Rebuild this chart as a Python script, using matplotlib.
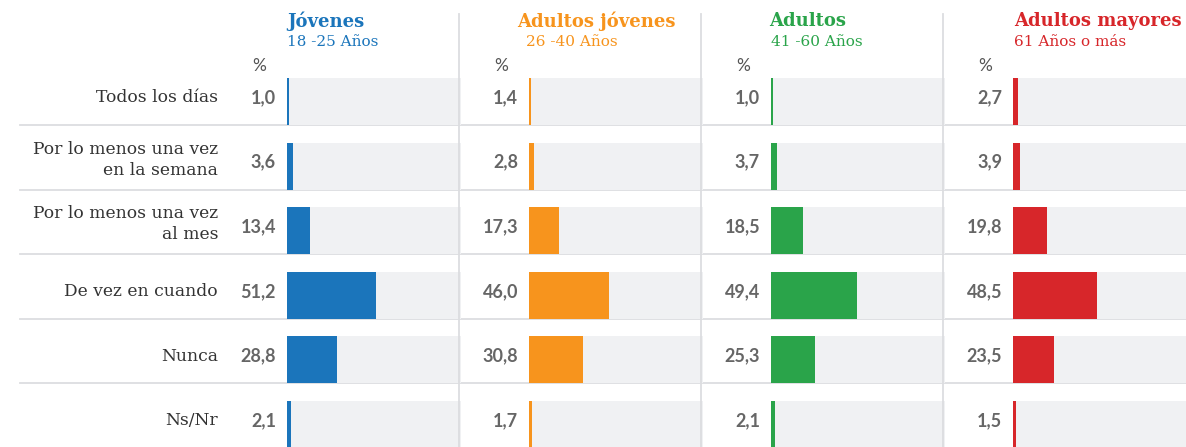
import matplotlib.pyplot as plt

# Frecuencia por grupo de edad (%)
categorias = ["Todos los días", "Por lo menos una vez\nen la semana",
              "Por lo menos una vez\nal mes", "De vez en cuando", "Nunca", "Ns/Nr"]
grupos = ["Jóvenes", "Adultos jóvenes", "Adultos", "Adultos mayores"]
subtitulos = ["18 -25 Años", "26 -40 Años", "41 -60 Años", "61 Años o más"]
jovenes = [1.0, 3.6, 13.4, 51.2, 28.8, 2.1]
adultos_jovenes = [1.4, 2.8, 17.3, 46.0, 30.8, 1.7]
adultos = [1.0, 3.7, 18.5, 49.4, 25.3, 2.1]
adultos_mayores = [2.7, 3.9, 19.8, 48.5, 23.5, 1.5]
valores = [jovenes, adultos_jovenes, adultos, adultos_mayores]
colores = ["#1b75bb", "#f7941d", "#2aa44a", "#d7262a"]

W, H = 1186, 447
fig = plt.figure(figsize=(W / 100, H / 100), dpi=100)

# filas: centro de la fila k en y=k, separación de 64.6 px
paso = 64.6
y_top = (60 - 101.5) / paso
y_bot = (H - 101.5) / paso
alto = 47 / paso
ax_top = 1 - 60 / H

# eje de fondo en pixeles para lineas y textos
fondo = fig.add_axes([0, 0, 1, ax_top])
fondo.set_xlim(0, W)
fondo.set_ylim(y_bot, y_top)
fondo.axis("off")

for k in range(len(categorias) - 1):
    fondo.plot([20, W], [k + alto / 2, k + alto / 2], color="#dcdde0", lw=1.3, zorder=0)

serif = "DejaVu Serif"
for k, cat in enumerate(categorias):
    desplaz = 0.1 if "\n" in cat else 0.06
    fondo.text(218, k - desplaz, cat, ha="right", va="center", fontsize=12.3,
               family=serif, color="#333333", linespacing=1.3)

paso_panel = 242
inicio = [287, 529, 771, 1013]
x_titulo = [287, 517, 769, 1014]
x_sub = [287, 526, 771, 1014]

for i, (vals, color) in enumerate(zip(valores, colores)):
    x0 = inicio[i]
    ax = fig.add_axes([x0 / W, 0, 174 / W, ax_top])
    ax.set_xlim(0, 100)
    ax.set_ylim(y_bot, y_top)
    ax.axis("off")
    filas = list(range(len(categorias)))
    ax.barh(filas, [100] * len(filas), height=alto, color="#f0f1f3", zorder=1)
    ax.barh(filas, vals, height=alto, color=color, zorder=2)

    if i > 0:
        xs = x0 - 70
        fig.add_artist(plt.Line2D([xs / W, xs / W], [0, 1 - 14 / H],
                                  color="#dcdde0", lw=1.3))

    for k, v in enumerate(vals):
        fondo.text(276 + i * paso_panel, k - 0.06, f"{v:.1f}".replace(".", ","),
                   ha="right", va="center", fontsize=13, family="Lato",
                   weight="bold", color="#666666")

    fig.text((259 + i * paso_panel) / W, 1 - 66 / H, "%", ha="center", va="center",
             fontsize=12.5, family="Lato", color="#555555")
    fig.text(x_titulo[i] / W, 1 - 21 / H, grupos[i], ha="left", va="center",
             fontsize=13, family=serif, weight="bold", color=color)
    fig.text(x_sub[i] / W, 1 - 42 / H, subtitulos[i], ha="left", va="center",
             fontsize=11, family=serif, color=color)

fig.savefig("out.png", dpi=100)
